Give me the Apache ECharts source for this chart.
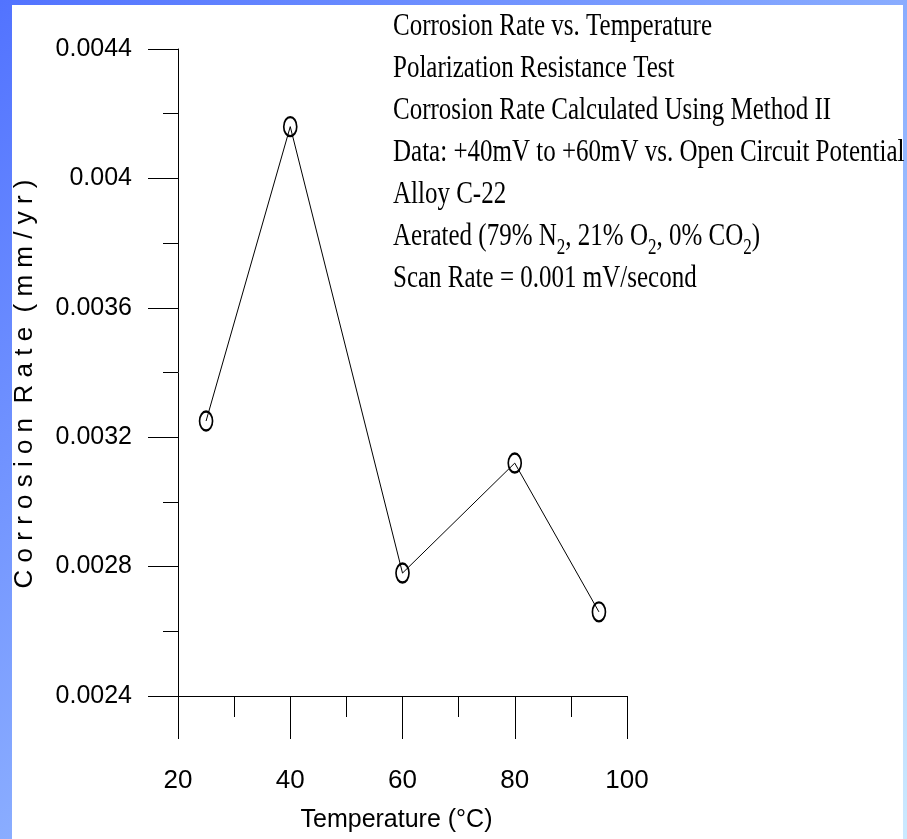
<!DOCTYPE html>
<html>
<head>
<meta charset="utf-8">
<script src="https://cdn.jsdelivr.net/npm/echarts@6/dist/echarts.min.js"></script>
<style>
  html, body { margin: 0; padding: 0; }
  body { width: 907px; height: 839px; overflow: hidden;
         background: linear-gradient(to bottom right, #5273ff 0%, #8fb2ff 55%, #cceaff 100%); position: relative; }
  #paper { position: absolute; left: 12px; top: 5px; width: 891px; height: 834px; background: #ffffff; }
  #chart { position: absolute; left: 0; top: 0; width: 907px; height: 839px; }
</style>
</head>
<body>
<div id="paper"></div>
<div id="chart"></div>
<script>
// ---- data ----
const temperatures = [25, 40, 60, 80, 95];
const corrosionRates = [0.00325, 0.00416, 0.00278, 0.00312, 0.00266];

const xAxisMin = 20, xAxisMax = 100, xAxisStep = 20;
const yAxisMin = 0.0024, yAxisMax = 0.0044, yAxisStep = 0.0004;

const xAxisTitle = 'Temperature (\u00B0C)';
const yAxisTitle = 'C o r r o s i o n  R a t e  ( m m / y r )';

const noteLines = [
  'Corrosion Rate vs. Temperature',
  'Polarization Resistance Test',
  'Corrosion Rate Calculated Using Method II',
  'Data: +40mV to +60mV vs. Open Circuit Potential',
  'Alloy C-22',
  'Aerated (79% N{sub|2}, 21% O{sub|2}, 0% CO{sub|2})',
  'Scan Rate = 0.001 mV/second'
];

// ---- chart ----
const sans = "'Liberation Sans', Arial, sans-serif";
const serif = "'Liberation Serif', 'Times New Roman', serif";
const ink = '#000000';

const chart = echarts.init(document.getElementById('chart'), null, { renderer: 'canvas' });

const seriesData = temperatures.map((t, i) => [t, corrosionRates[i]]);

const noteElements = noteLines.map((line, i) => ({
  type: 'text',
  x: 393,
  y: 26.3 + 42.1 * i,
  scaleY: 1.3,
  z: 10,
  style: {
    text: line,
    fontFamily: serif,
    fontSize: 25,
    fill: ink,
    align: 'left',
    verticalAlign: 'middle',
    rich: {
      sub: { fontFamily: serif, fontSize: 17, fill: ink, padding: [17, 0, 0, 0] }
    }
  }
}));

const option = {
  animation: false,
  backgroundColor: 'transparent',
  grid: { left: 178, top: 49, right: 280, bottom: 143, containLabel: false, outerBoundsMode: 'none' },
  xAxis: {
    type: 'value',
    min: xAxisMin, max: xAxisMax, interval: xAxisStep,
    name: xAxisTitle,
    nameLocation: 'middle',
    nameGap: 112,
    nameTextStyle: { fontFamily: sans, fontSize: 25, color: ink, padding: [0, 12, 0, 0] },
    axisLine: { show: true, lineStyle: { color: ink, width: 1 } },
    axisTick: { show: true, inside: false, length: 43, lineStyle: { color: ink, width: 1 } },
    minorTick: { show: true, splitNumber: 2, length: 21, lineStyle: { color: ink, width: 1 } },
    splitLine: { show: false },
    minorSplitLine: { show: false },
    axisLabel: { margin: 72, fontFamily: sans, fontSize: 26, color: ink }
  },
  yAxis: {
    type: 'value',
    min: yAxisMin, max: yAxisMax, interval: yAxisStep,
    name: yAxisTitle,
    nameLocation: 'middle',
    nameGap: 140,
    nameTextStyle: { fontFamily: sans, fontSize: 26, color: ink, padding: [0, 23, 0, 0] },
    axisLine: { show: true, lineStyle: { color: ink, width: 1 } },
    axisTick: { show: true, inside: false, length: 30, lineStyle: { color: ink, width: 1 } },
    minorTick: { show: true, splitNumber: 2, length: 15, lineStyle: { color: ink, width: 1 } },
    splitLine: { show: false },
    minorSplitLine: { show: false },
    axisLabel: {
      margin: 46, fontFamily: sans, fontSize: 25, color: ink,
      formatter: v => String(+v.toFixed(4))
    }
  },
  series: [{
    type: 'line',
    data: seriesData,
    symbol: 'path://M0,10A10,10,0,1,1,20,10A10,10,0,1,1,0,10Z',
    symbolSize: [13, 19],
    showSymbol: true,
    lineStyle: { color: ink, width: 1 },
    itemStyle: { color: 'rgba(0,0,0,0)', borderColor: ink, borderWidth: 2 },
    emphasis: { disabled: true },
    z: 3
  }],
  graphic: noteElements
};

chart.setOption(option);
</script>
</body>
</html>
